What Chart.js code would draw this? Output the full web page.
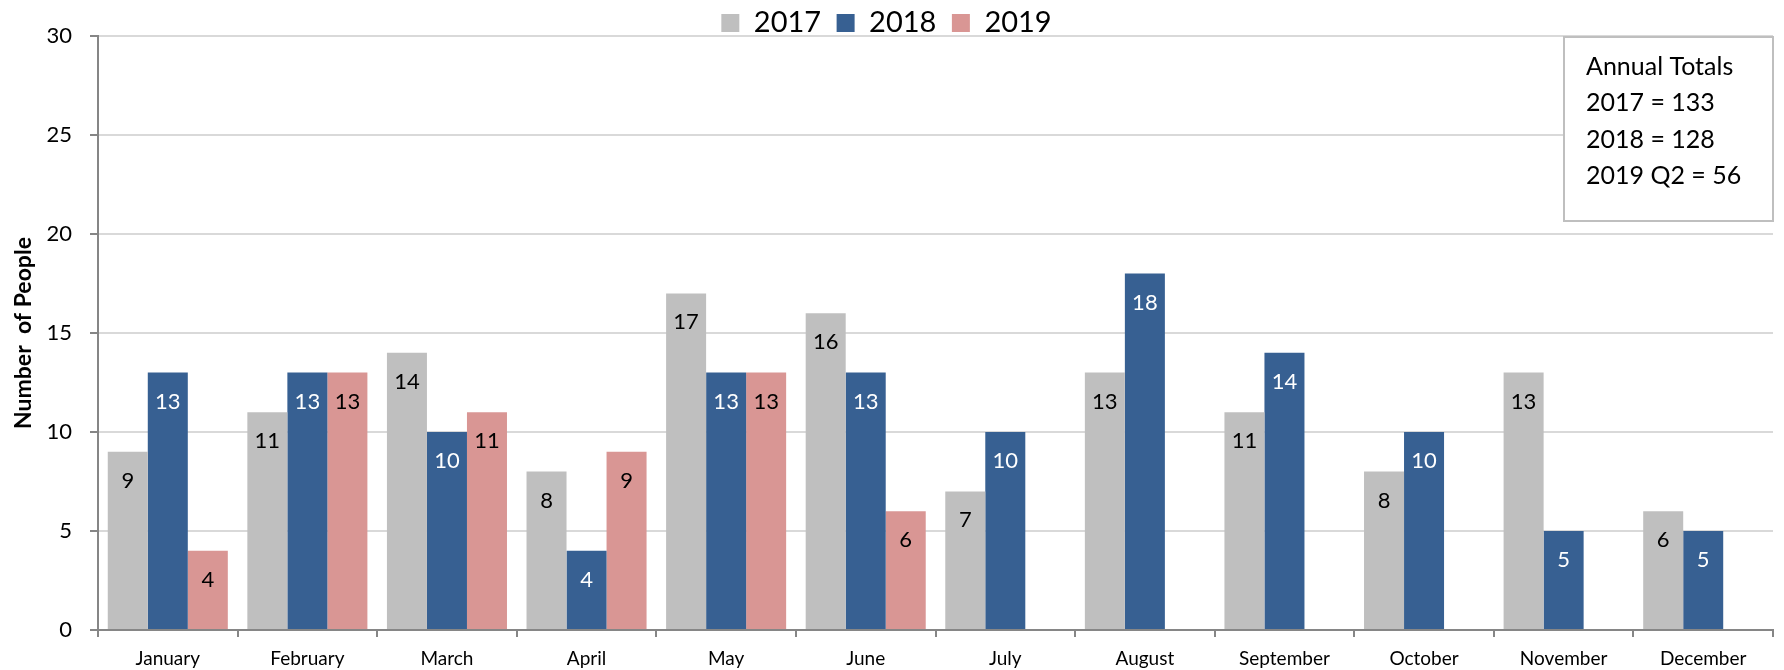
<!DOCTYPE html>
<html>
<head>
<meta charset="utf-8">
<script src="https://cdn.jsdelivr.net/npm/chart.js@4.4.1/dist/chart.umd.min.js"></script>
<style>
  html, body { margin: 0; padding: 0; background: #fff; }
  #wrap { width: 1784px; height: 670px; }
</style>
</head>
<body>
<div id="wrap"><canvas id="chart"></canvas></div>
<script>
// chart values
const months = ['January', 'February', 'March', 'April', 'May', 'June',
                'July', 'August', 'September', 'October', 'November', 'December'];
const people2017 = [9, 11, 14, 8, 17, 16, 7, 13, 11, 8, 13, 6];
const people2018 = [13, 13, 10, 4, 13, 13, 10, 18, 14, 10, 5, 5];
const people2019 = [4, 13, 11, 9, 13, 6, null, null, null, null, null, null];
const yTicks = [0, 5, 10, 15, 20, 25, 30];
const totalsLines = ['Annual Totals', '2017 = 133', '2018 = 128', '2019 Q2 = 56'];

const fontFamily = 'Lato, "Open Sans", sans-serif';

// writes the value inside the top of every bar
const barValues = {
    id: 'barValues',
    afterDatasetsDraw(chart) {
        const ctx = chart.ctx;
        ctx.save();
        ctx.font = '22px ' + fontFamily;
        ctx.textAlign = 'center';
        ctx.textBaseline = 'middle';
        chart.data.datasets.forEach((ds, i) => {
            const meta = chart.getDatasetMeta(i);
            ctx.fillStyle = ds.labelColor;
            meta.data.forEach((bar, j) => {
                const v = ds.data[j];
                if (v == null) return;
                ctx.fillText(String(v), bar.x, bar.y + 29);
            });
        });
        ctx.restore();
    }
};

// the "Annual Totals" note in the upper right corner
const totalsBox = {
    id: 'totalsBox',
    afterDraw(chart) {
        const ctx = chart.ctx;
        const area = chart.chartArea;
        const w = 209, h = 184;
        const x = area.right - w, y = area.top + 1;
        ctx.save();
        ctx.fillStyle = '#fff';
        ctx.fillRect(x, y, w, h);
        ctx.strokeStyle = '#bfbfbf';
        ctx.lineWidth = 2;
        ctx.strokeRect(x, y, w, h);
        ctx.fillStyle = '#000';
        ctx.font = '25px ' + fontFamily;
        ctx.textAlign = 'left';
        ctx.textBaseline = 'alphabetic';
        totalsLines.forEach((line, k) => {
            ctx.fillText(line, x + 22, y + 38 + k * 36.3);
        });
        ctx.restore();
    }
};

new Chart(document.getElementById('chart'), {
    type: 'bar',
    data: {
        labels: months,
        datasets: [
            { label: '2017', data: people2017, backgroundColor: '#bfbfbf', labelColor: '#000' },
            { label: '2018', data: people2018, backgroundColor: '#376092', labelColor: '#fff' },
            { label: '2019', data: people2019, backgroundColor: '#d99694', labelColor: '#000' }
        ]
    },
    options: {
        responsive: true,
        maintainAspectRatio: false,
        animation: false,
        datasets: {
            bar: { categoryPercentage: 0.86, barPercentage: 1.0 }
        },
        layout: { padding: { left: 0, right: 11, top: -7, bottom: 0 } },
        plugins: {
            tooltip: { enabled: false },
            legend: {
                position: 'top',
                maxHeight: 43,
                labels: {
                    boxWidth: 18,
                    boxHeight: 18,
                    padding: 15.5,
                    color: '#000',
                    font: { family: fontFamily, size: 29 }
                }
            }
        },
        scales: {
            x: {
                afterFit(scale) { scale.height = 40; },
                grid: {
                    offset: true,
                    drawOnChartArea: false,
                    tickLength: 7,
                    color: '#868686',
                    tickColor: '#868686',
                    lineWidth: 2
                },
                border: { color: '#868686', width: 2 },
                ticks: {
                    color: '#000',
                    padding: 10,
                    font: { family: fontFamily, size: 19 }
                }
            },
            y: {
                min: 0,
                max: 30,
                afterFit(scale) { scale.width = 98; },
                afterBuildTicks(scale) { scale.ticks = yTicks.map(v => ({ value: v })); },
                grid: {
                    color: '#d9d9d9',
                    tickColor: '#868686',
                    tickLength: 8,
                    lineWidth: 2
                },
                border: { color: '#868686', width: 2 },
                ticks: {
                    color: '#000',
                    padding: 18,
                    font: { family: fontFamily, size: 22 }
                },
                title: {
                    display: true,
                    text: 'Number  of People',
                    color: '#000',
                    padding: { top: 10, bottom: 0 },
                    font: { family: fontFamily, size: 23, weight: 'bold' }
                }
            }
        }
    },
    plugins: [barValues, totalsBox]
});
</script>
</body>
</html>
